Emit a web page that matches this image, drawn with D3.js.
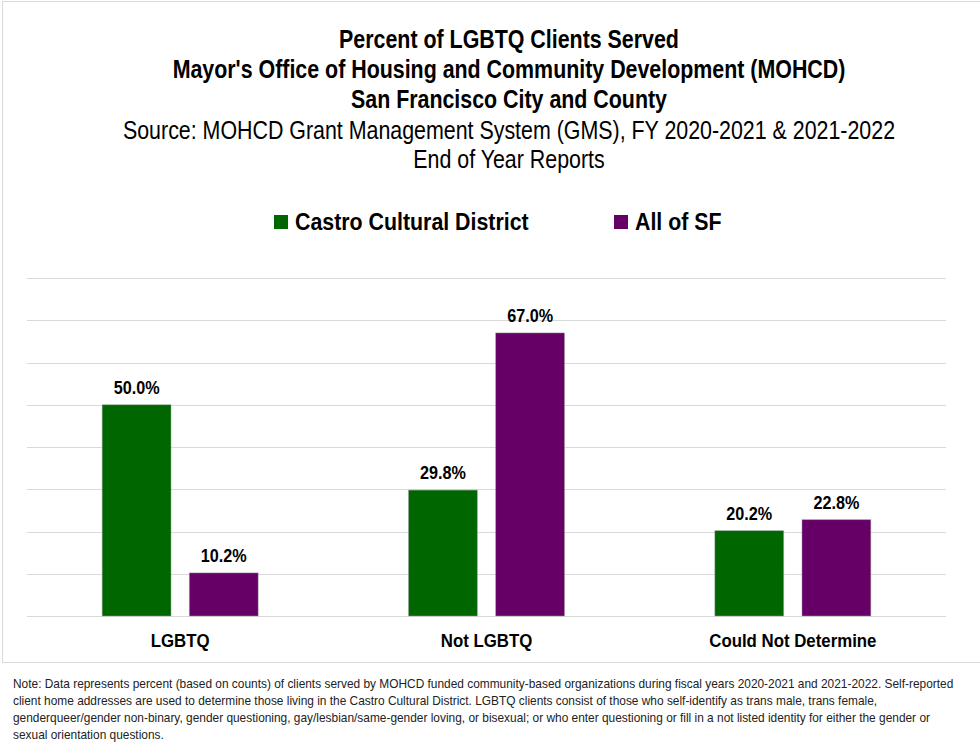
<!DOCTYPE html>
<html>
<head>
<meta charset="utf-8">
<script src="https://cdn.jsdelivr.net/npm/d3@7"></script>
<style>
  body { margin: 0; background: #fff; }
  svg text { font-family: "Liberation Sans", Arial, sans-serif; fill: #000; }
  svg text.note { fill: #222; }
</style>
</head>
<body>
<div id="chart"></div>
<script>
// data
const categories = ["LGBTQ", "Not LGBTQ", "Could Not Determine"];
const seriesNames = ["Castro Cultural District", "All of SF"];
const castroValues = [50.0, 29.8, 20.2];
const allSfValues = [10.2, 67.0, 22.8];
const yTicks = [0, 10, 20, 30, 40, 50, 60, 70, 80];

const titleLines = [
    "Percent of LGBTQ Clients Served",
    "Mayor's Office of Housing and Community Development (MOHCD)",
    "San Francisco City and County"
];
const subtitleLines = [
    "Source: MOHCD Grant Management System (GMS), FY 2020-2021 & 2021-2022",
    "End of Year Reports"
];
const noteLines = [
    "Note: Data represents percent (based on counts) of clients served by MOHCD funded community-based organizations during fiscal years 2020-2021 and 2021-2022. Self-reported",
    "client home addresses are used to determine those living in the Castro Cultural District. LGBTQ clients consist of those who self-identify as trans male, trans female,",
    "genderqueer/gender non-binary, gender questioning, gay/lesbian/same-gender loving, or bisexual; or who enter questioning or fill in a not listed identity for either the gender or",
    "sexual orientation questions."
];

const colors = ["#006600", "#660066"];

const W = 980, H = 756;
const plot = { left: 27, right: 946, top: 278, bottom: 616 };

var svg = d3.select("#chart").append("svg")
    .attr("width", W)
    .attr("height", H);

// the original uses a narrow font, so squeeze text horizontally
function addText(parent, x, y, sx, txt) {
    return parent.append("text")
        .attr("transform", "translate(" + x + "," + y + ") scale(" + sx + ",1)")
        .text(txt);
}

// outer box of the chart
svg.append("rect")
    .attr("x", 2.5).attr("y", 1.5)
    .attr("width", W + 10).attr("height", 661)
    .attr("fill", "none")
    .attr("stroke", "#d9d9d9");

// titles
titleLines.forEach(function (t, i) {
    addText(svg, 509, 48 + i * 30, 0.856, t)
        .attr("text-anchor", "middle")
        .style("font-size", "25px")
        .style("font-weight", "bold");
});
subtitleLines.forEach(function (t, i) {
    addText(svg, 509, 139 + i * 29, 0.856, t)
        .attr("text-anchor", "middle")
        .style("font-size", "25px");
});

// legend
var legendX = [274, 614];
seriesNames.forEach(function (name, i) {
    var g = svg.append("g").attr("transform", "translate(" + legendX[i] + ",215)");
    g.append("rect").attr("width", 14).attr("height", 14).attr("fill", colors[i]);
    addText(g, 21, 15, 0.89, name)
        .style("font-size", "24px")
        .style("font-weight", "bold");
});

// scales
var x0 = d3.scaleBand().domain(categories).range([plot.left, plot.right]).padding(0);
var x1 = d3.scaleBand().domain(seriesNames).range([0, 156]).paddingInner(0.21);
var y = d3.scaleLinear().domain([0, 80]).range([plot.bottom, plot.top]);

// gridlines
svg.append("g")
    .selectAll("line")
    .data(yTicks)
    .join("line")
    .attr("x1", plot.left).attr("x2", plot.right)
    .attr("y1", d => Math.round(y(d)) + 0.5)
    .attr("y2", d => Math.round(y(d)) + 0.5)
    .attr("stroke", "#d9d9d9")
    .attr("stroke-width", 1.2);

// bars
var rows = categories.map(function (c, i) {
    return { cat: c, vals: [castroValues[i], allSfValues[i]] };
});

var groups = svg.append("g").selectAll("g")
    .data(rows)
    .join("g")
    .attr("transform", d => "translate(" + (x0(d.cat) + (x0.bandwidth() - 156) / 2) + ",0)");

groups.selectAll("rect")
    .data(d => d.vals.map((v, i) => ({ s: seriesNames[i], v: v, i: i })))
    .join("rect")
    .attr("x", d => x1(d.s))
    .attr("y", d => y(d.v))
    .attr("width", x1.bandwidth())
    .attr("height", d => y(0) - y(d.v))
    .attr("fill", d => colors[d.i])
    .attr("stroke", "#a0a0a0")
    .attr("stroke-opacity", 0.6)
    .attr("stroke-width", 0.8);

groups.each(function (d) {
    var g = d3.select(this);
    d.vals.forEach(function (v, i) {
        addText(g, x1(seriesNames[i]) + x1.bandwidth() / 2, y(v) - 11, 0.9, v.toFixed(1) + "%")
            .attr("text-anchor", "middle")
            .style("font-size", "18px")
            .style("font-weight", "bold");
    });
});

// category axis
var xAxis = svg.append("g")
    .attr("transform", "translate(0," + plot.bottom + ")")
    .call(d3.axisBottom(x0).tickSize(0).tickPadding(31));
xAxis.select(".domain").remove();
xAxis.selectAll("text")
    .attr("dy", 0)
    .attr("transform", "scale(0.885,1)")
    .style("font-size", "19px")
    .style("font-weight", "bold")
    .style("font-family", null);
// the tick group already sits at the band center, so the scale keeps the label centered

// note
noteLines.forEach(function (t, i) {
    addText(svg, 13, 688 + i * 17, 0.993, t)
        .attr("class", "note")
        .style("font-size", "12px");
});
</script>
</body>
</html>
